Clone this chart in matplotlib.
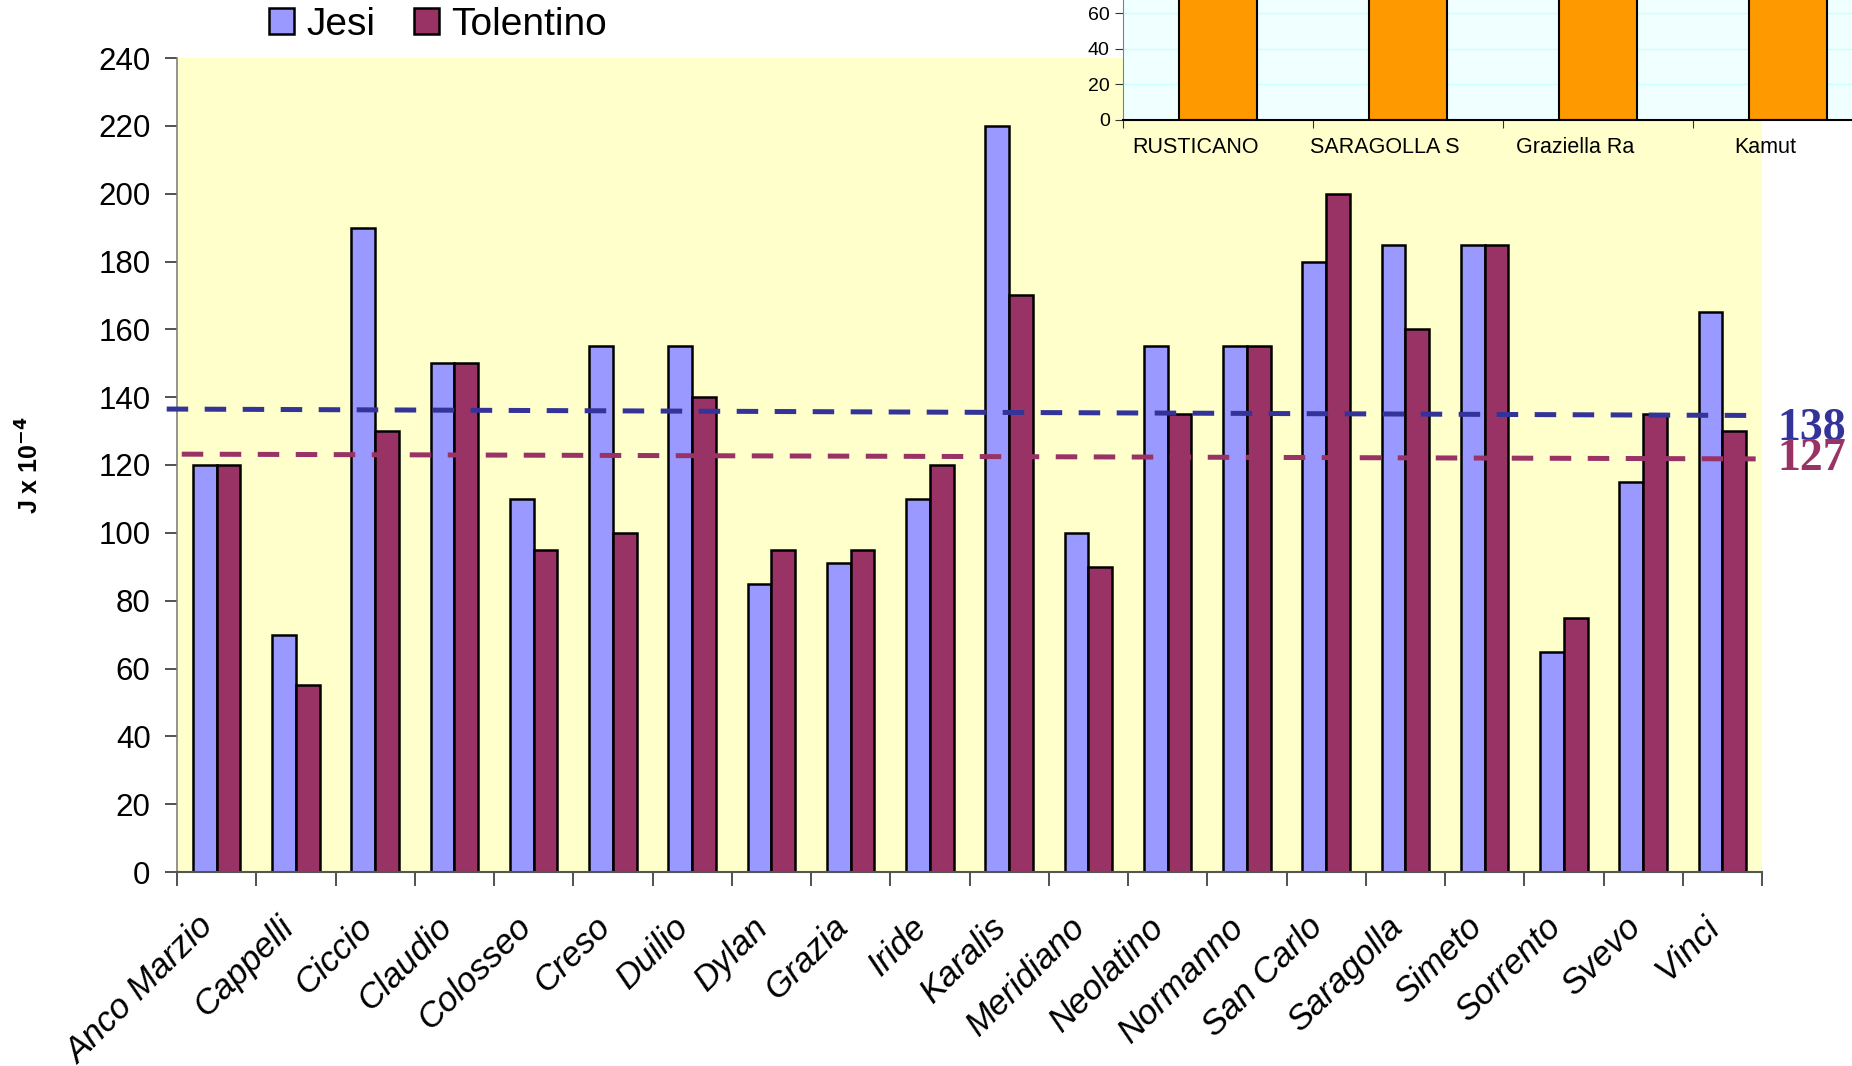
import numpy as np
import matplotlib
matplotlib.use('Agg')
import matplotlib.pyplot as plt

plt.rcParams['font.family'] = ['Liberation Sans', 'DejaVu Sans']

# dati principali
varieta = ['Anco Marzio', 'Cappelli', 'Ciccio', 'Claudio', 'Colosseo', 'Creso',
           'Duilio', 'Dylan', 'Grazia', 'Iride', 'Karalis', 'Meridiano',
           'Neolatino', 'Normanno', 'San Carlo', 'Saragolla', 'Simeto',
           'Sorrento', 'Svevo', 'Vinci']
jesi = [120, 70, 190, 150, 110, 155, 155, 85, 91, 110, 220, 100,
        155, 155, 180, 185, 185, 65, 115, 165]
tolentino = [120, 55, 130, 150, 95, 100, 140, 95, 95, 120, 170, 90,
             135, 155, 200, 160, 185, 75, 135, 130]

# linee medie (valori agli estremi) e etichette
media_jesi = [136.5, 134.6]
media_tol = [123.2, 121.8]
etich_jesi = '138'
etich_tol = '127'

# grafico piccolo in alto a destra
varieta_ins = ['RUSTICANO', 'SARAGOLLA S', 'Graziella Ra', 'Kamut']
valori_ins = [90, 90, 90, 90]

W, H = 1852, 1066
fig = plt.figure(figsize=(W / 100, H / 100), dpi=100)
ax = fig.add_axes([177 / W, 1 - 872 / H, 1585 / W, 814 / H])
ax.set_facecolor('#FFFFCC')

x = np.arange(len(varieta))
b1 = ax.bar(x - 0.15, jesi, 0.3, color='#9999FF', edgecolor='black', linewidth=1.8, label='Jesi', zorder=2)
b2 = ax.bar(x + 0.15, tolentino, 0.3, color='#993366', edgecolor='black', linewidth=1.8, label='Tolentino', zorder=2)

ax.plot([-0.63, 19.42], media_jesi, color='#333399', lw=3.6, dashes=(4.3, 3.3), clip_on=False, zorder=3)
ax.plot([-0.44, 19.42], media_tol, color='#993366', lw=3.6, dashes=(4.3, 3.3), clip_on=False, zorder=3)

ax.set_xlim(-0.5, len(varieta) - 0.5)
ax.set_ylim(0, 240)
ax.set_yticks(range(0, 241, 20))
ax.set_xticks(np.arange(-0.5, len(varieta), 1))
ax.set_xticklabels([])
ax.set_xticks(x - 0.1, minor=True)
ax.set_xticklabels(varieta, minor=True, rotation=45, ha='right', va='center',
                   rotation_mode='anchor', style='italic', fontsize=25)

ax.spines['top'].set_visible(False)
ax.spines['right'].set_visible(False)
ax.spines['left'].set_color('#808080')
ax.spines['bottom'].set_color('#555555')
ax.spines['left'].set_linewidth(1.2)
ax.spines['bottom'].set_linewidth(1.5)
ax.tick_params(axis='y', labelsize=22.5, length=9, width=1.2, color='#333333', pad=10)
ax.tick_params(axis='x', which='major', length=10, width=1.2, color='#333333')
ax.tick_params(axis='x', which='minor', length=0, pad=36)

fig.text(30 / W, 1 - 465 / H, r'J x 10$^{\mathbf{-4}}$', rotation=90, ha='center', va='center',
         fontsize=18, fontweight='bold')

ax.legend(handles=[b1, b2], loc='center left', bbox_to_anchor=(269 / W, 1 - 25 / H),
          bbox_transform=fig.transFigure, ncol=2, frameon=False, fontsize=28,
          handlelength=0.65, handleheight=0.65, handletextpad=0.3, columnspacing=1.0,
          borderpad=0, borderaxespad=0)

fig.text(1777 / W, 1 - 440 / H, etich_jesi, color='#333399', fontsize=33,
         family='Liberation Serif', fontweight='bold', va='baseline')
fig.text(1777 / W, 1 - 470 / H, etich_tol, color='#993366', fontsize=33,
         family='Liberation Serif', fontweight='bold', va='baseline')

# inserto
ax2 = fig.add_axes([1123 / W, 1 - 120 / H, 760 / W, 213 / H])
ax2.set_facecolor('#F0FFFF')
xi = np.arange(len(varieta_ins))
ax2.bar(xi, valori_ins, 0.41, color='#FF9900', edgecolor='black', linewidth=1.5, zorder=2)
ax2.set_xlim(-0.5, len(varieta_ins) - 0.5)
ax2.set_ylim(0, 120)
ax2.set_yticks(range(0, 121, 20))
ax2.yaxis.grid(True, color='#CCFFFF', lw=1)
ax2.set_axisbelow(True)
ax2.set_xticks(np.arange(-0.5, len(varieta_ins), 1))
ax2.set_xticklabels([])
ax2.set_xticks(xi - 0.12, minor=True)
ax2.set_xticklabels(varieta_ins, minor=True, fontsize=15.5)
ax2.tick_params(axis='x', which='minor', length=0, pad=12)
ax2.tick_params(axis='x', which='major', length=6, color='#333333')
ax2.tick_params(axis='y', labelsize=14, length=6, color='#333333')
ax2.spines['top'].set_visible(False)
ax2.spines['right'].set_visible(False)
ax2.spines['left'].set_color('#808080')
ax2.spines['bottom'].set_color('black')
ax2.spines['bottom'].set_linewidth(1.5)

fig.savefig('out.png', dpi=100)
